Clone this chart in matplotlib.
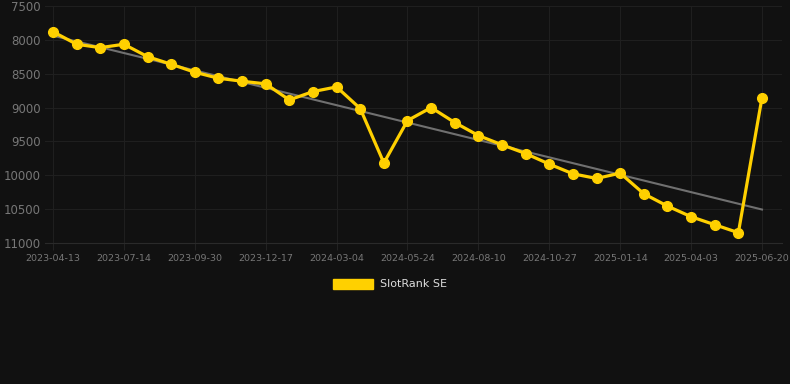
import numpy as np
import matplotlib
matplotlib.use("Agg")
import matplotlib.pyplot as plt
from matplotlib.patches import Patch

# dates of the observations (only every third one is labelled on the axis)
dates = ["2023-04-13", "2023-05-14", "2023-06-13", "2023-07-14", "2023-08-09",
         "2023-09-04", "2023-09-30", "2023-10-26", "2023-11-21", "2023-12-17",
         "2024-01-12", "2024-02-07", "2024-03-04", "2024-03-31", "2024-04-27",
         "2024-05-24", "2024-06-19", "2024-07-15", "2024-08-10", "2024-09-05",
         "2024-10-01", "2024-10-27", "2024-11-22", "2024-12-19", "2025-01-14",
         "2025-02-09", "2025-03-08", "2025-04-03", "2025-04-29", "2025-05-25",
         "2025-06-20"]
rank = [7880, 8065, 8115, 8065, 8248, 8360, 8478, 8567, 8611, 8650,
        8887, 8764, 8695, 9015, 9818, 9192, 9000, 9221, 9413, 9550,
        9679, 9835, 9978, 10047, 9968, 10273, 10455, 10612, 10730, 10848,
        8852]
series_name = "SlotRank SE"

bg = "#111111"
yellow = "#FFD000"

fig = plt.figure(figsize=(7.9, 3.84), dpi=100, facecolor=bg)
ax = fig.add_axes([45 / 790, 1 - 243 / 384, 737 / 790, 237 / 384], facecolor=bg)

x = np.arange(len(rank))

# linear trend
k, b = np.polyfit(x, rank, 1)
ax.plot([x[0], x[-1]], [k * x[0] + b, k * x[-1] + b], color="#707070", lw=1.5, zorder=2)

ax.plot(x, rank, color=yellow, lw=2.3, marker="o", ms=7, zorder=3)

ax.set_ylim(11000, 7500)
ax.set_yticks(np.arange(7500, 11001, 500))
ax.set_xlim(-8 / 23.63, 30 + 20 / 23.63)
ax.set_xticks(x[::3])
ax.set_xticklabels(dates[::3])

ax.grid(True, color="#1f1f1f", lw=0.8)
ax.set_axisbelow(True)
for s in ["top", "right", "left"]:
    ax.spines[s].set_visible(False)
ax.spines["bottom"].set_color("#2a2a2a")
ax.tick_params(axis="y", length=0, colors="#777777", labelsize=8.5, pad=3)
ax.tick_params(axis="x", length=5, color="#222222", colors="#777777", labelsize=6.8, pad=3)

fig.legend(handles=[Patch(color=yellow, label=series_name)],
           loc="center", bbox_to_anchor=(0.5 - 5 / 790, 1 - 284 / 384), frameon=False,
           labelcolor="#dddddd", fontsize=8, handlelength=3.6, handleheight=1.0,
           handletextpad=0.55)

fig.savefig("out.png", dpi=100, facecolor=bg)
